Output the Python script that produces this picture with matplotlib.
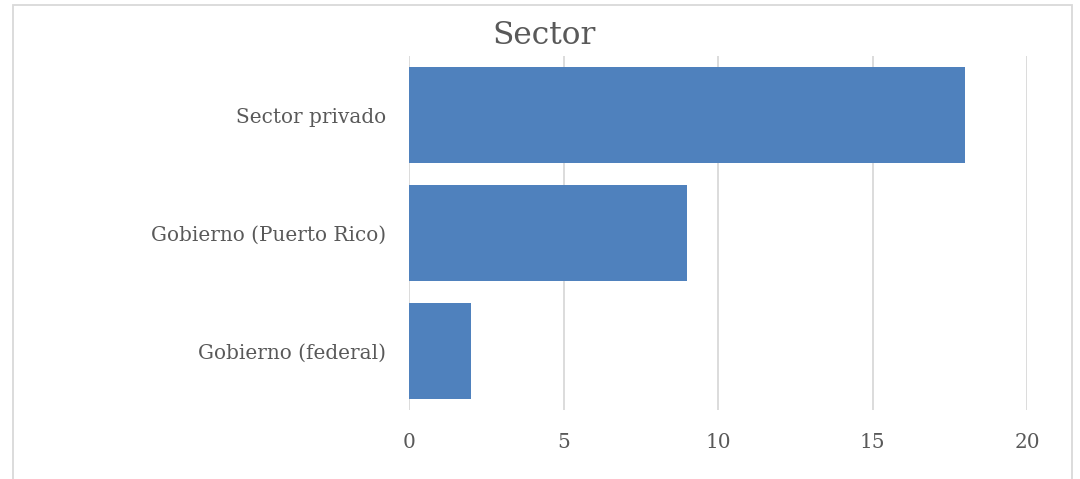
import matplotlib.pyplot as plt
from matplotlib.patches import Rectangle

# datos del grafico
categorias = ['Gobierno (federal)', 'Gobierno (Puerto Rico)', 'Sector privado']
valores = [2, 9, 18]
ticks_x = [0, 5, 10, 15, 20]

color_barra = '#4F81BD'
color_texto = '#595959'
color_rejilla = '#D9D9D9'

plt.rcParams['font.family'] = ['DejaVu Serif']

fig = plt.figure(figsize=(10.8, 4.79), dpi=100)
ax = fig.add_axes([409 / 1080, 1 - 410 / 479, 618 / 1080, 354 / 479])

ax.barh(range(len(categorias)), valores, height=0.82, color=color_barra, zorder=3)
ax.set_xlim(0, 20)
ax.set_ylim(-0.5, len(categorias) - 0.5)
ax.set_xticks(ticks_x)
ax.set_yticks(range(len(categorias)))
ax.set_yticklabels(categorias)
ax.grid(axis='x', color=color_rejilla, linewidth=1.3, zorder=0)
for s in ax.spines.values():
    s.set_visible(False)
ax.tick_params(axis='both', length=0, labelsize=14.4, colors=color_texto)
ax.tick_params(axis='x', pad=16.5)
ax.tick_params(axis='y', pad=16.5)

fig.text(544 / 1080, 1 - 35 / 479, 'Sector', ha='center', va='center',
         fontsize=22.5, color=color_texto)

# marco del grafico
fig.patches.append(Rectangle((13 / 1080, -0.1), 1059 / 1080, 1.1 - 5.5 / 479,
                             transform=fig.transFigure, fill=False,
                             edgecolor='#D9D9D9', linewidth=1.3))

fig.savefig('out.png', dpi=100)
